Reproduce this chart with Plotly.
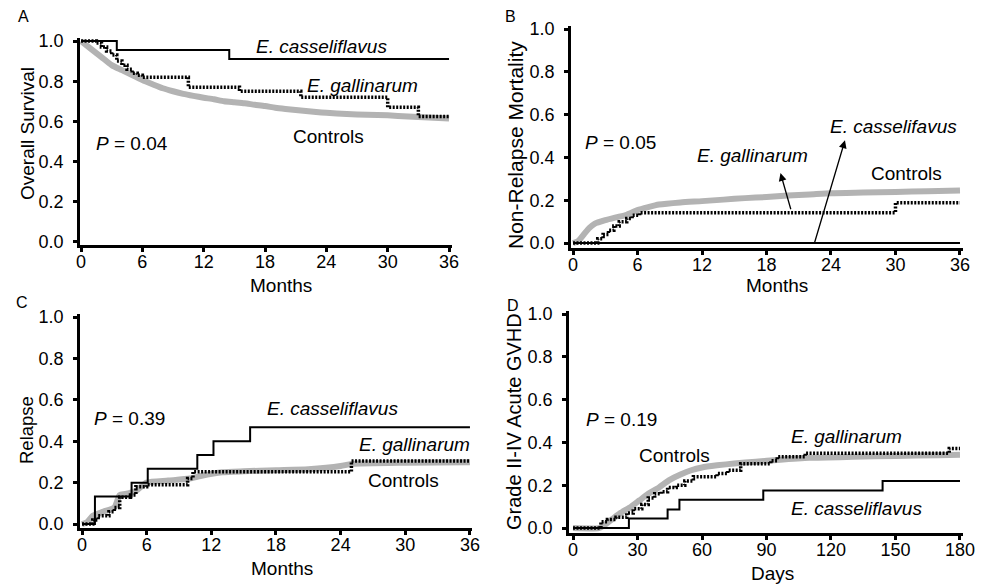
import plotly.graph_objects as go

W, H = 987, 584

# ---------------- Data ----------------
# Panel A: Overall survival (months)
a_cas_x = [0, 3.5, 14.5, 36]
a_cas_y = [1.0, 0.955, 0.91, 0.91]
a_gal_x = [0, 1.5, 2.0, 2.5, 3.0, 3.5, 4.0, 4.5, 5.0, 5.5, 6.0, 10.5, 15.5, 21.5, 30.0, 33.0, 36]
a_gal_y = [1.0, 0.99, 0.97, 0.95, 0.93, 0.90, 0.88, 0.86, 0.84, 0.83, 0.82, 0.77, 0.75, 0.72, 0.67, 0.625, 0.625]
a_con_x = [0, 1, 2, 3, 4, 5, 6, 7, 8, 9, 10, 11, 12, 13, 14, 15, 16, 17, 18, 19, 20, 21, 22, 23, 24, 26, 28, 30, 32, 34, 36]
a_con_y = [1.0, 0.96, 0.92, 0.88, 0.855, 0.83, 0.806, 0.785, 0.765, 0.75, 0.737, 0.727, 0.718, 0.71, 0.70, 0.695, 0.69, 0.683, 0.677, 0.668, 0.662, 0.657, 0.652, 0.647, 0.643, 0.637, 0.633, 0.63, 0.624, 0.62, 0.615]

# Panel B: Non-relapse mortality (months)
b_cas_x = [0, 36]
b_cas_y = [0.0, 0.0]
b_gal_x = [0, 2.3, 2.8, 3.3, 3.8, 4.3, 5.0, 5.5, 6.2, 30.0, 36]
b_gal_y = [0.0, 0.02, 0.04, 0.06, 0.08, 0.10, 0.115, 0.13, 0.142, 0.188, 0.188]
b_con_x = [0, 0.5, 1, 1.5, 2, 3, 4, 5, 6, 7, 8, 10, 12, 14, 16, 18, 20, 22, 24, 27, 30, 33, 36]
b_con_y = [0.0, 0.01, 0.04, 0.07, 0.09, 0.107, 0.12, 0.132, 0.154, 0.168, 0.18, 0.19, 0.196, 0.203, 0.21, 0.215, 0.222, 0.227, 0.233, 0.236, 0.239, 0.242, 0.246]

# Panel C: Relapse (months)
c_cas_x = [0, 1.2, 4.6, 6.1, 10.7, 12.2, 15.6, 36]
c_cas_y = [0.0, 0.133, 0.2, 0.267, 0.333, 0.4, 0.467, 0.467]
c_gal_x = [0, 1.0, 1.5, 2.5, 3.0, 3.5, 4.5, 5.0, 6.0, 9.8, 10.3, 25.0, 36]
c_gal_y = [0.0, 0.02, 0.04, 0.06, 0.08, 0.13, 0.14, 0.18, 0.19, 0.22, 0.253, 0.304, 0.304]
c_con_x = [0, 0.5, 1, 2, 3, 3.5, 4, 5, 6, 8, 10, 11, 13, 15, 18, 21, 24, 25, 30, 36]
c_con_y = [0.0, 0.01, 0.04, 0.06, 0.08, 0.14, 0.145, 0.16, 0.2, 0.21, 0.22, 0.232, 0.25, 0.255, 0.26, 0.265, 0.28, 0.29, 0.296, 0.298]

# Panel D: Grade II-IV acute GVHD (days)
d_cas_x = [0, 26, 44, 49.5, 88.5, 144, 180]
d_cas_y = [0.0, 0.045, 0.087, 0.132, 0.176, 0.22, 0.22]
d_gal_x = [0, 13, 16, 20, 25, 28, 32, 35, 38, 41, 44, 48, 52, 56, 67, 72, 78, 92, 95, 108, 175, 180]
d_gal_y = [0.0, 0.03, 0.04, 0.05, 0.07, 0.09, 0.11, 0.14, 0.16, 0.17, 0.19, 0.20, 0.22, 0.24, 0.255, 0.27, 0.30, 0.315, 0.333, 0.35, 0.372, 0.372]
d_con_x = [0, 12, 14, 18, 22, 27, 31, 35, 40, 45, 50, 55, 60, 67, 75, 85, 95, 110, 130, 150, 170, 180]
d_con_y = [0.0, 0.0, 0.01, 0.04, 0.07, 0.1, 0.13, 0.16, 0.19, 0.225, 0.25, 0.27, 0.283, 0.293, 0.302, 0.31, 0.318, 0.328, 0.333, 0.337, 0.34, 0.342]

y_ticks = [0.0, 0.2, 0.4, 0.6, 0.8, 1.0]
y_tick_text = ["0.0", "0.2", "0.4", "0.6", "0.8", "1.0"]
month_ticks = [0, 6, 12, 18, 24, 30, 36]
day_ticks = [0, 30, 60, 90, 120, 150, 180]

# ---------------- Styling ----------------
FONT = "Liberation Sans, Arial, sans-serif"
GRAY = "#b3b3b3"
BLACK = "#000000"

def px_x(p):
    return p / W

def px_y(p):
    return 1 - p / H

fig = go.Figure()

panels = [
    # suffix, xdom px, ydom px (top,bottom), xrange, yrange, xticks, data
    ("", (80, 452), (38, 245), [-0.1, 36.29], [-0.015, 1.015], month_ticks,
     (a_cas_x, a_cas_y, a_gal_x, a_gal_y, a_con_x, a_con_y)),
    ("2", (571, 963), (26, 248), [-0.186, 36.28], [-0.023, 1.014], month_ticks,
     (b_cas_x, b_cas_y, b_gal_x, b_gal_y, b_con_x, b_con_y)),
    ("3", (80, 472), (314, 528), [-0.186, 36.19], [-0.019, 1.0145], month_ticks,
     (c_cas_x, c_cas_y, c_gal_x, c_gal_y, c_con_x, c_con_y)),
    ("4", (569, 963), (311, 533), [-1.86, 181.4], [-0.023, 1.014], day_ticks,
     (d_cas_x, d_cas_y, d_gal_x, d_gal_y, d_con_x, d_con_y)),
]

layout_axes = {}
for suf, xd, yd, xr, yr, xt, data in panels:
    cx, cy, gx, gy, kx, ky = data
    xa = "x" + suf
    ya = "y" + suf
    fig.add_trace(go.Scatter(x=kx, y=ky, mode="lines", line=dict(color=GRAY, width=6, shape="spline", smoothing=0.6),
                             xaxis=xa, yaxis=ya, showlegend=False, hoverinfo="skip"))
    fig.add_trace(go.Scatter(x=gx, y=gy, mode="lines", line=dict(color=BLACK, width=3.5, dash="2px,1.5px", shape="hv"),
                             xaxis=xa, yaxis=ya, showlegend=False, hoverinfo="skip"))
    fig.add_trace(go.Scatter(x=cx, y=cy, mode="lines", line=dict(color=BLACK, width=2, shape="hv"),
                             xaxis=xa, yaxis=ya, showlegend=False, hoverinfo="skip"))
    common = dict(showgrid=False, zeroline=False, showline=True, linecolor=BLACK, linewidth=2.5,
                  ticks="outside", ticklen=4, tickwidth=3, tickcolor=BLACK, automargin=False,
                  tickfont=dict(family=FONT, size=18, color=BLACK))
    layout_axes["xaxis" + suf] = dict(domain=[px_x(xd[0]), px_x(xd[1])], range=xr, tickvals=xt,
                                      anchor=ya, ticklabelstandoff=-5, **common)
    layout_axes["yaxis" + suf] = dict(domain=[px_y(yd[1]), px_y(yd[0])], range=yr, tickvals=y_ticks,
                                      ticktext=y_tick_text, anchor=xa, ticklabelstandoff=6, **common)

fig.update_layout(**layout_axes)

ann = []
def label(text, x, y, xref, yref, italic=False, size=19, angle=0):
    t = "<i>%s</i>" % text if italic else text
    ann.append(dict(text=t, x=x, y=y, xref=xref, yref=yref, showarrow=False, textangle=angle,
                    font=dict(family=FONT, size=size, color=BLACK), xanchor="center", yanchor="middle"))

# Axis titles (paper positions, in pixels)
for text, px, py, size, angle in [
    ("Overall Survival", 27, 134, 19, -90),
    ("Months", 281, 285, 19, 0),
    ("Non-Relapse Mortality", 515, 145, 21, -90),
    ("Months", 777, 285, 19, 0),
    ("Relapse", 27, 430, 18.5, -90),
    ("Months", 282, 568, 19, 0),
    ("Grade II-IV Acute GVHD", 514, 422, 20, -90),
    ("Days", 772, 573, 19, 0),
]:
    label(text, px_x(px), px_y(py), "paper", "paper", size=size, angle=angle)

# Panel A
label("E. casseliflavus", 23.55, 0.972, "x", "y", True)
label("E. gallinarum", 27.5, 0.78, "x", "y", True)
label("Controls", 24.2, 0.524, "x", "y")
label("<i>P</i> = 0.04", 4.96, 0.49, "x", "y")
# Panel B
label("E. gallinarum", 16.7, 0.41, "x2", "y2", True)
label("E. casselifavus", 29.8, 0.543, "x2", "y2", True)
label("Controls", 31.0, 0.326, "x2", "y2")
label("<i>P</i> = 0.05", 4.4, 0.469, "x2", "y2")
# Panel C
label("E. casseliflavus", 23.2, 0.559, "x3", "y3", True)
label("E. gallinarum", 30.9, 0.382, "x3", "y3", True)
label("Controls", 29.8, 0.209, "x3", "y3")
label("<i>P</i> = 0.39", 4.45, 0.51, "x3", "y3")
# Panel D
label("E. gallinarum", 127.3, 0.426, "x4", "y4", True)
label("Controls", 47.4, 0.341, "x4", "y4")
label("E. casseliflavus", 132, 0.092, "x4", "y4", True)
label("<i>P</i> = 0.19", 22.6, 0.508, "x4", "y4")

# Panel letters
for letter, px, py in [("A", 23, 17), ("B", 510, 17), ("C", 22, 302), ("D", 513, 305)]:
    label(letter, px_x(px), px_y(py), "paper", "paper", size=16)

# Arrows in panel B
ann.append(dict(x=19.3, y=0.327, ax=20.3, ay=0.151, xref="x2", yref="y2", axref="x2", ayref="y2",
                text="", showarrow=True, arrowhead=2, arrowsize=1.2, arrowwidth=1.3, arrowcolor=BLACK))
ann.append(dict(x=25.3, y=0.48, ax=22.4, ay=-0.01, xref="x2", yref="y2", axref="x2", ayref="y2",
                text="", showarrow=True, arrowhead=2, arrowsize=1.2, arrowwidth=1.3, arrowcolor=BLACK))

fig.update_layout(annotations=ann, width=W, height=H, margin=dict(l=0, r=0, t=0, b=0),
                  paper_bgcolor="white", plot_bgcolor="white", font=dict(family=FONT, color=BLACK))

fig.write_html("out.html", config={"displayModeBar": False},
               post_script="document.body.style.margin='0';document.body.style.overflow='hidden';")
